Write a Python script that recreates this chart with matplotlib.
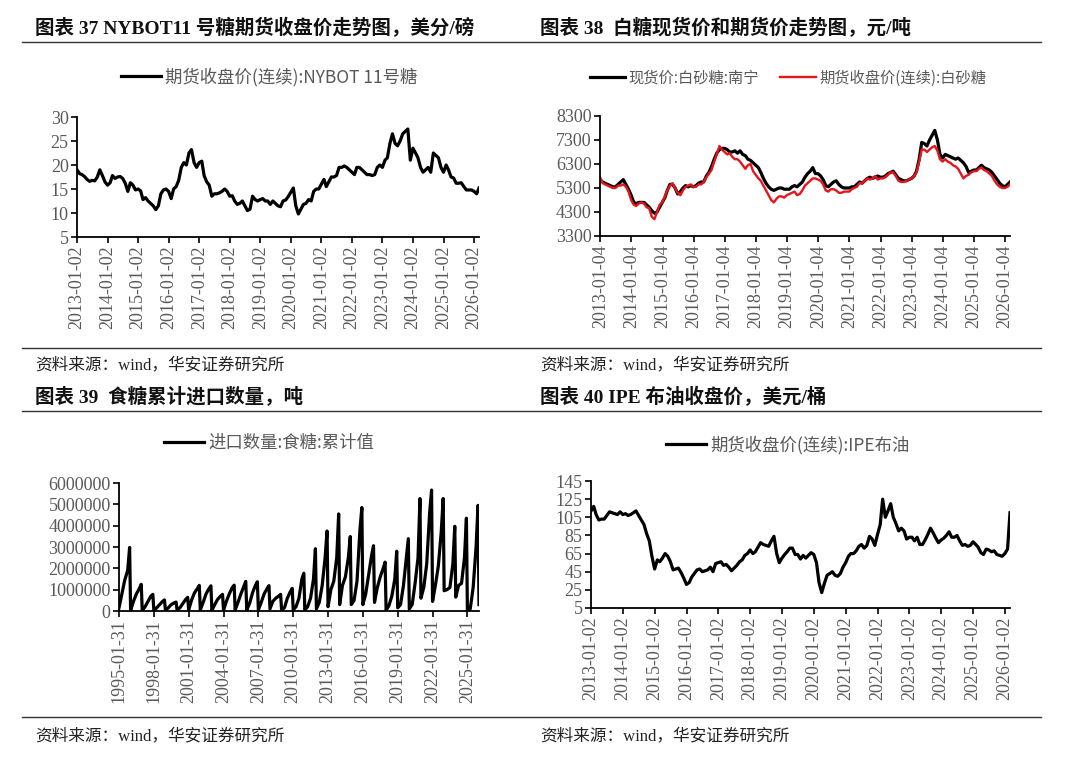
import numpy as np
import pandas as pd
import matplotlib
matplotlib.use('Agg')
import matplotlib.pyplot as plt
from matplotlib.lines import Line2D
from matplotlib.ticker import FuncFormatter

# ---------------- data (monthly) ----------------
# NYBOT 11 sugar, US cents/lb, 2013-01 .. 2026-03
nybot = [19.0, 18.2, 18.0, 17.6, 17.0, 16.6, 16.8, 16.7, 17.5, 19.0, 17.8, 16.5,
         15.8, 16.3, 17.8, 17.2, 17.5, 17.6, 17.2, 16.2, 14.5, 16.3, 15.8, 14.8,
         15.0, 14.6, 12.8, 13.2, 12.5, 12.0, 11.5, 10.7, 11.5, 14.0, 14.8, 15.0,
         14.5, 13.0, 15.0, 15.5, 16.8, 19.5, 20.5, 20.0, 22.5, 23.2, 20.5, 19.5,
         20.5, 20.8, 17.8, 16.5, 15.8, 13.5, 14.0, 14.0, 14.2, 14.5, 15.0, 14.5,
         13.5, 13.6, 12.5, 11.8, 12.0, 12.5, 11.5, 10.5, 10.8, 13.5, 12.8, 12.5,
         12.8, 13.0, 12.5, 12.5, 11.8, 12.5, 12.0, 11.5, 11.3, 12.5, 12.7, 13.4,
         14.3, 15.2, 11.5, 9.8, 10.8, 11.8, 12.0, 12.8, 12.5, 14.5, 15.0, 15.0,
         16.0, 17.0, 15.5, 16.5, 17.5, 17.5, 17.8, 19.5, 19.5, 19.8, 19.5, 19.0,
         18.5, 18.0, 19.5, 19.5, 19.0, 18.5, 18.0, 18.0, 17.8, 18.0, 19.5, 20.0,
         19.5, 21.0, 21.5, 24.5, 26.5, 24.5, 24.0, 25.0, 26.5, 27.0, 27.5, 21.0,
         23.5, 22.5, 21.5, 19.5, 18.5, 19.0, 19.5, 18.5, 22.5, 22.0, 21.5, 19.5,
         18.5, 20.0, 19.0, 17.5, 17.3, 16.2, 16.2, 16.3, 15.5, 14.8, 14.8, 14.8,
         14.5, 14.0, 15.2]

# white sugar, yuan/ton: Nanning spot (black) and futures (red), 2013-01 .. 2026-03
spot = [5650, 5550, 5500, 5450, 5400, 5350, 5350, 5450, 5550, 5650, 5450, 5250,
        5000, 4700, 4650, 4700, 4700, 4700, 4600, 4500, 4350, 4250, 4300, 4500,
        4700, 4900, 5200, 5450, 5450, 5300, 5050, 5150, 5300, 5400, 5350, 5400,
        5350, 5400, 5500, 5550, 5550, 5800, 5950, 6200, 6500, 6750, 6900, 6950,
        6950, 6900, 6800, 6800, 6850, 6750, 6850, 6700, 6650, 6500, 6450, 6350,
        6250, 6150, 5950, 5700, 5500, 5350, 5250, 5200, 5250, 5300, 5300, 5250,
        5250, 5250, 5350, 5400, 5350, 5450, 5550, 5750, 5900, 6000, 6150, 5900,
        5900, 5800, 5650, 5400, 5350, 5450, 5550, 5600, 5450, 5350, 5300, 5300,
        5300, 5350, 5350, 5450, 5550, 5500, 5600, 5700, 5750, 5700, 5750, 5800,
        5750, 5750, 5800, 5900, 5950, 6000, 5850, 5700, 5650, 5600, 5600, 5650,
        5700, 5800, 6000, 6500, 7200, 7150, 7050, 7300, 7500, 7700, 7300, 6700,
        6550, 6700, 6650, 6600, 6550, 6500, 6550, 6450, 6350, 6200, 5950, 6000,
        6050, 6050, 6150, 6250, 6150, 6100, 6050, 5950, 5800, 5650, 5500, 5400,
        5350, 5450, 5550]
futures = [5750, 5500, 5450, 5400, 5350, 5300, 5300, 5400, 5400, 5450, 5350, 5150,
           4800, 4600, 4550, 4650, 4700, 4650, 4500, 4450, 4100, 4000, 4300, 4600,
           4700, 4950, 5200, 5400, 5500, 5300, 5100, 5000, 5200, 5350, 5400, 5450,
           5350, 5350, 5450, 5450, 5550, 5750, 5900, 6050, 6400, 6700, 7050, 6900,
           6800, 6700, 6750, 6600, 6500, 6500, 6400, 6250, 6100, 6250, 6300, 6000,
           5850, 5700, 5600, 5400, 5200, 5000, 4800, 4700, 4850, 4950, 4950, 4900,
           5000, 5050, 5100, 5150, 5000, 5050, 5200, 5400, 5500, 5600, 5700, 5700,
           5650, 5600, 5450, 5200, 5150, 5250, 5250, 5200, 5100, 5100, 5150, 5150,
           5150, 5250, 5300, 5350, 5500, 5500, 5600, 5700, 5650, 5700, 5800, 5650,
           5700, 5700, 5750, 5850, 5950, 5950, 5800, 5600, 5550, 5550, 5600, 5650,
           5700, 5800, 5950, 6400, 6900, 6900, 6800, 6900, 7000, 7050, 6850, 6500,
           6400, 6500, 6400, 6350, 6250, 6200, 6100, 5900, 5700, 5800, 5850, 5950,
           6000, 6000, 6100, 6150, 6050, 6000, 5900, 5800, 5600, 5450, 5350, 5300,
           5300, 5350, 5450]

# IPE Brent, USD/bbl, 2013-01 .. 2026-03
brent = [112, 117, 108, 102, 103, 103, 107, 111, 110, 109, 108, 111,
         108, 109, 107, 108, 110, 112, 107, 102, 97, 87, 79, 62,
         48, 58, 56, 60, 65, 62, 56, 47, 48, 49, 44, 38,
         31, 33, 39, 43, 47, 48, 45, 46, 47, 50, 45, 54,
         55, 56, 52, 53, 50, 46, 49, 52, 56, 58, 63, 65,
         69, 65, 67, 72, 77, 75, 74, 73, 79, 84, 65, 55,
         60, 64, 67, 71, 71, 64, 64, 59, 63, 60, 63, 66,
         64, 55, 33, 22, 32, 41, 43, 45, 41, 40, 43, 50,
         55, 62, 65, 65, 68, 73, 75, 71, 74, 84, 81, 74,
         86, 97, 125, 105, 112, 120, 105, 98, 90, 93, 90, 81,
         83, 83, 79, 83, 75, 75, 80, 86, 93, 88, 82, 77,
         80, 82, 85, 89, 83, 83, 85, 79, 74, 75, 73, 74,
         78, 75, 72, 66, 64, 70, 69, 67, 68, 64, 63, 62,
         65, 70, 110]

# sugar imports, cumulative within year, 10k tons; points at Jan/Apr/Jul/Oct/Dec
imp_years = list(range(1995, 2026))
imp_months = [1, 4, 7, 10, 12]
imp_wan = [[15, 80, 145, 190, 298], [3, 45, 80, 105, 125], [2, 20, 45, 70, 78],
           [2, 15, 30, 45, 52], [3, 15, 30, 38, 42], [5, 15, 35, 55, 64],
           [5, 50, 85, 105, 120], [5, 40, 80, 105, 118], [3, 30, 55, 70, 78],
           [3, 45, 80, 110, 121], [5, 40, 80, 115, 139], [5, 35, 85, 120, 137],
           [5, 40, 80, 105, 119], [10, 45, 60, 70, 78], [5, 15, 60, 90, 106],
           [5, 20, 60, 150, 177], [5, 20, 60, 150, 292], [10, 40, 120, 250, 375],
           [20, 100, 140, 250, 455], [30, 120, 160, 250, 349], [30, 50, 140, 380, 485],
           [30, 80, 170, 260, 306], [40, 110, 160, 200, 229], [3, 25, 70, 150, 280],
           [15, 30, 120, 250, 339], [10, 30, 130, 250, 527], [60, 110, 220, 460, 567],
           [45, 120, 210, 370, 527], [95, 100, 110, 220, 397], [65, 120, 130, 250, 435],
           [3, 10, 110, 300, 495]]
imp_last = 30  # 2026-01

tick_a = ['%d-01-02' % y for y in range(2013, 2027)]
tick_b = ['%d-01-04' % y for y in range(2013, 2027)]
tick_c = ['%d-01-31' % y for y in range(1995, 2026, 3)]

# ---------------- build series ----------------
months = pd.date_range('2013-01-01', periods=len(nybot), freq='MS')
imp_dates, imp_vals = [], []
for y, row in zip(imp_years, imp_wan):
    for m, v in zip(imp_months, row):
        imp_dates.append(pd.Timestamp(y, m, 1) + pd.offsets.MonthEnd(0))
        imp_vals.append(v * 10000)
imp_dates.append(pd.Timestamp('2026-01-31'))
imp_vals.append(imp_last * 10000)

# ---------------- figure ----------------
plt.rcParams['font.family'] = ['Liberation Serif', 'Noto Sans CJK SC']
gray = '#595959'
sans = ['Noto Sans CJK SC', 'DejaVu Sans']
W, H = 1080, 757
fig = plt.figure(figsize=(W / 100, H / 100), dpi=100)


def px_axes(l, t, r, b):
    return fig.add_axes([l / W, 1 - b / H, (r - l) / W, (b - t) / H])


def style(ax, yticks, xticks, xlabels, fmt=None):
    for s in ['top', 'right']:
        ax.spines[s].set_visible(False)
    for s in ['left', 'bottom']:
        ax.spines[s].set_linewidth(1.3)
    ax.set_ylim(yticks[0], yticks[-1])
    ax.set_yticks(yticks)
    if fmt:
        ax.yaxis.set_major_formatter(fmt)
    ax.set_xticks(pd.to_datetime(xticks))
    ax.set_xticklabels(xlabels, rotation=90)
    ax.tick_params(direction='out', length=4, width=1.2, colors='black',
                   labelcolor=gray, labelsize=13, pad=2)


def legend(ax, cx, cy, ncol=1, size=12.5):
    ax.legend(loc='center', bbox_to_anchor=(cx / W, 1 - cy / H),
              bbox_transform=fig.transFigure, frameon=False, ncol=ncol,
              prop={'family': sans, 'size': size}, labelcolor=gray,
              handlelength=2.3, handletextpad=0.25, columnspacing=1.4)


intfmt = FuncFormatter(lambda v, p: '%d' % v)
LW = 2.3

# panel 37
ax1 = px_axes(77, 117, 479, 237)
ax1.plot(months, nybot, color='black', lw=LW, label='期货收盘价(连续):NYBOT 11号糖')
style(ax1, [5, 10, 15, 20, 25, 30], tick_a, tick_a, intfmt)
ax1.set_xlim(months[0], months[-1])
legend(ax1, 269, 77)

# panel 38
ax2 = px_axes(600, 116, 1010, 236)
ax2.plot(months, spot, color='black', lw=LW, label='现货价:白砂糖:南宁')
ax2.plot(months, futures, color='#e8141b', lw=1.7, label='期货收盘价(连续):白砂糖')
style(ax2, [3300, 4300, 5300, 6300, 7300, 8300], tick_b, tick_b, intfmt)
ax2.set_xlim(months[0], months[-1])
legend(ax2, 788, 78, ncol=2, size=11)

# panel 39
ax3 = px_axes(119, 483, 479, 611)
ax3.plot(imp_dates, imp_vals, color='black', lw=LW, label='进口数量:食糖:累计值')
style(ax3, [0, 1000000, 2000000, 3000000, 4000000, 5000000, 6000000], tick_c, tick_c, intfmt)
ax3.set_xlim(imp_dates[0], imp_dates[-1])
legend(ax3, 269, 443)

# panel 40
ax4 = px_axes(591, 481, 1010, 608)
ax4.plot(months, brent, color='black', lw=LW, label='期货收盘价(连续):IPE布油')
style(ax4, [5, 25, 45, 65, 85, 105, 125, 145], tick_a, tick_a, intfmt)
ax4.set_xlim(months[0], months[-1])
legend(ax4, 788, 445)

# headers, rules and source notes
hdr = dict(fontsize=14, fontweight='bold', color='#111111', va='center')
fig.text(35 / W, 1 - 28 / H, '图表 37 NYBOT11 号糖期货收盘价走势图，美分/磅', **hdr)
fig.text(540 / W, 1 - 28 / H, '图表 38  白糖现货价和期货价走势图，元/吨', **hdr)
fig.text(35 / W, 1 - 397 / H, '图表 39  食糖累计进口数量，吨', **hdr)
fig.text(540 / W, 1 - 397 / H, '图表 40 IPE 布油收盘价，美元/桶', **hdr)

for yy in [42, 348, 411, 717]:
    fig.add_artist(Line2D([22 / W, 1041 / W], [1 - yy / H, 1 - yy / H],
                          transform=fig.transFigure, color='#333333', lw=1.0))

src = '资料来源：wind，华安证券研究所'
for x, y in [(35, 365), (540, 365), (35, 736), (540, 736)]:
    fig.text(x / W, 1 - y / H, src, fontsize=12, color='#222222', va='center')

fig.savefig('out.png', dpi=100, facecolor='white')
